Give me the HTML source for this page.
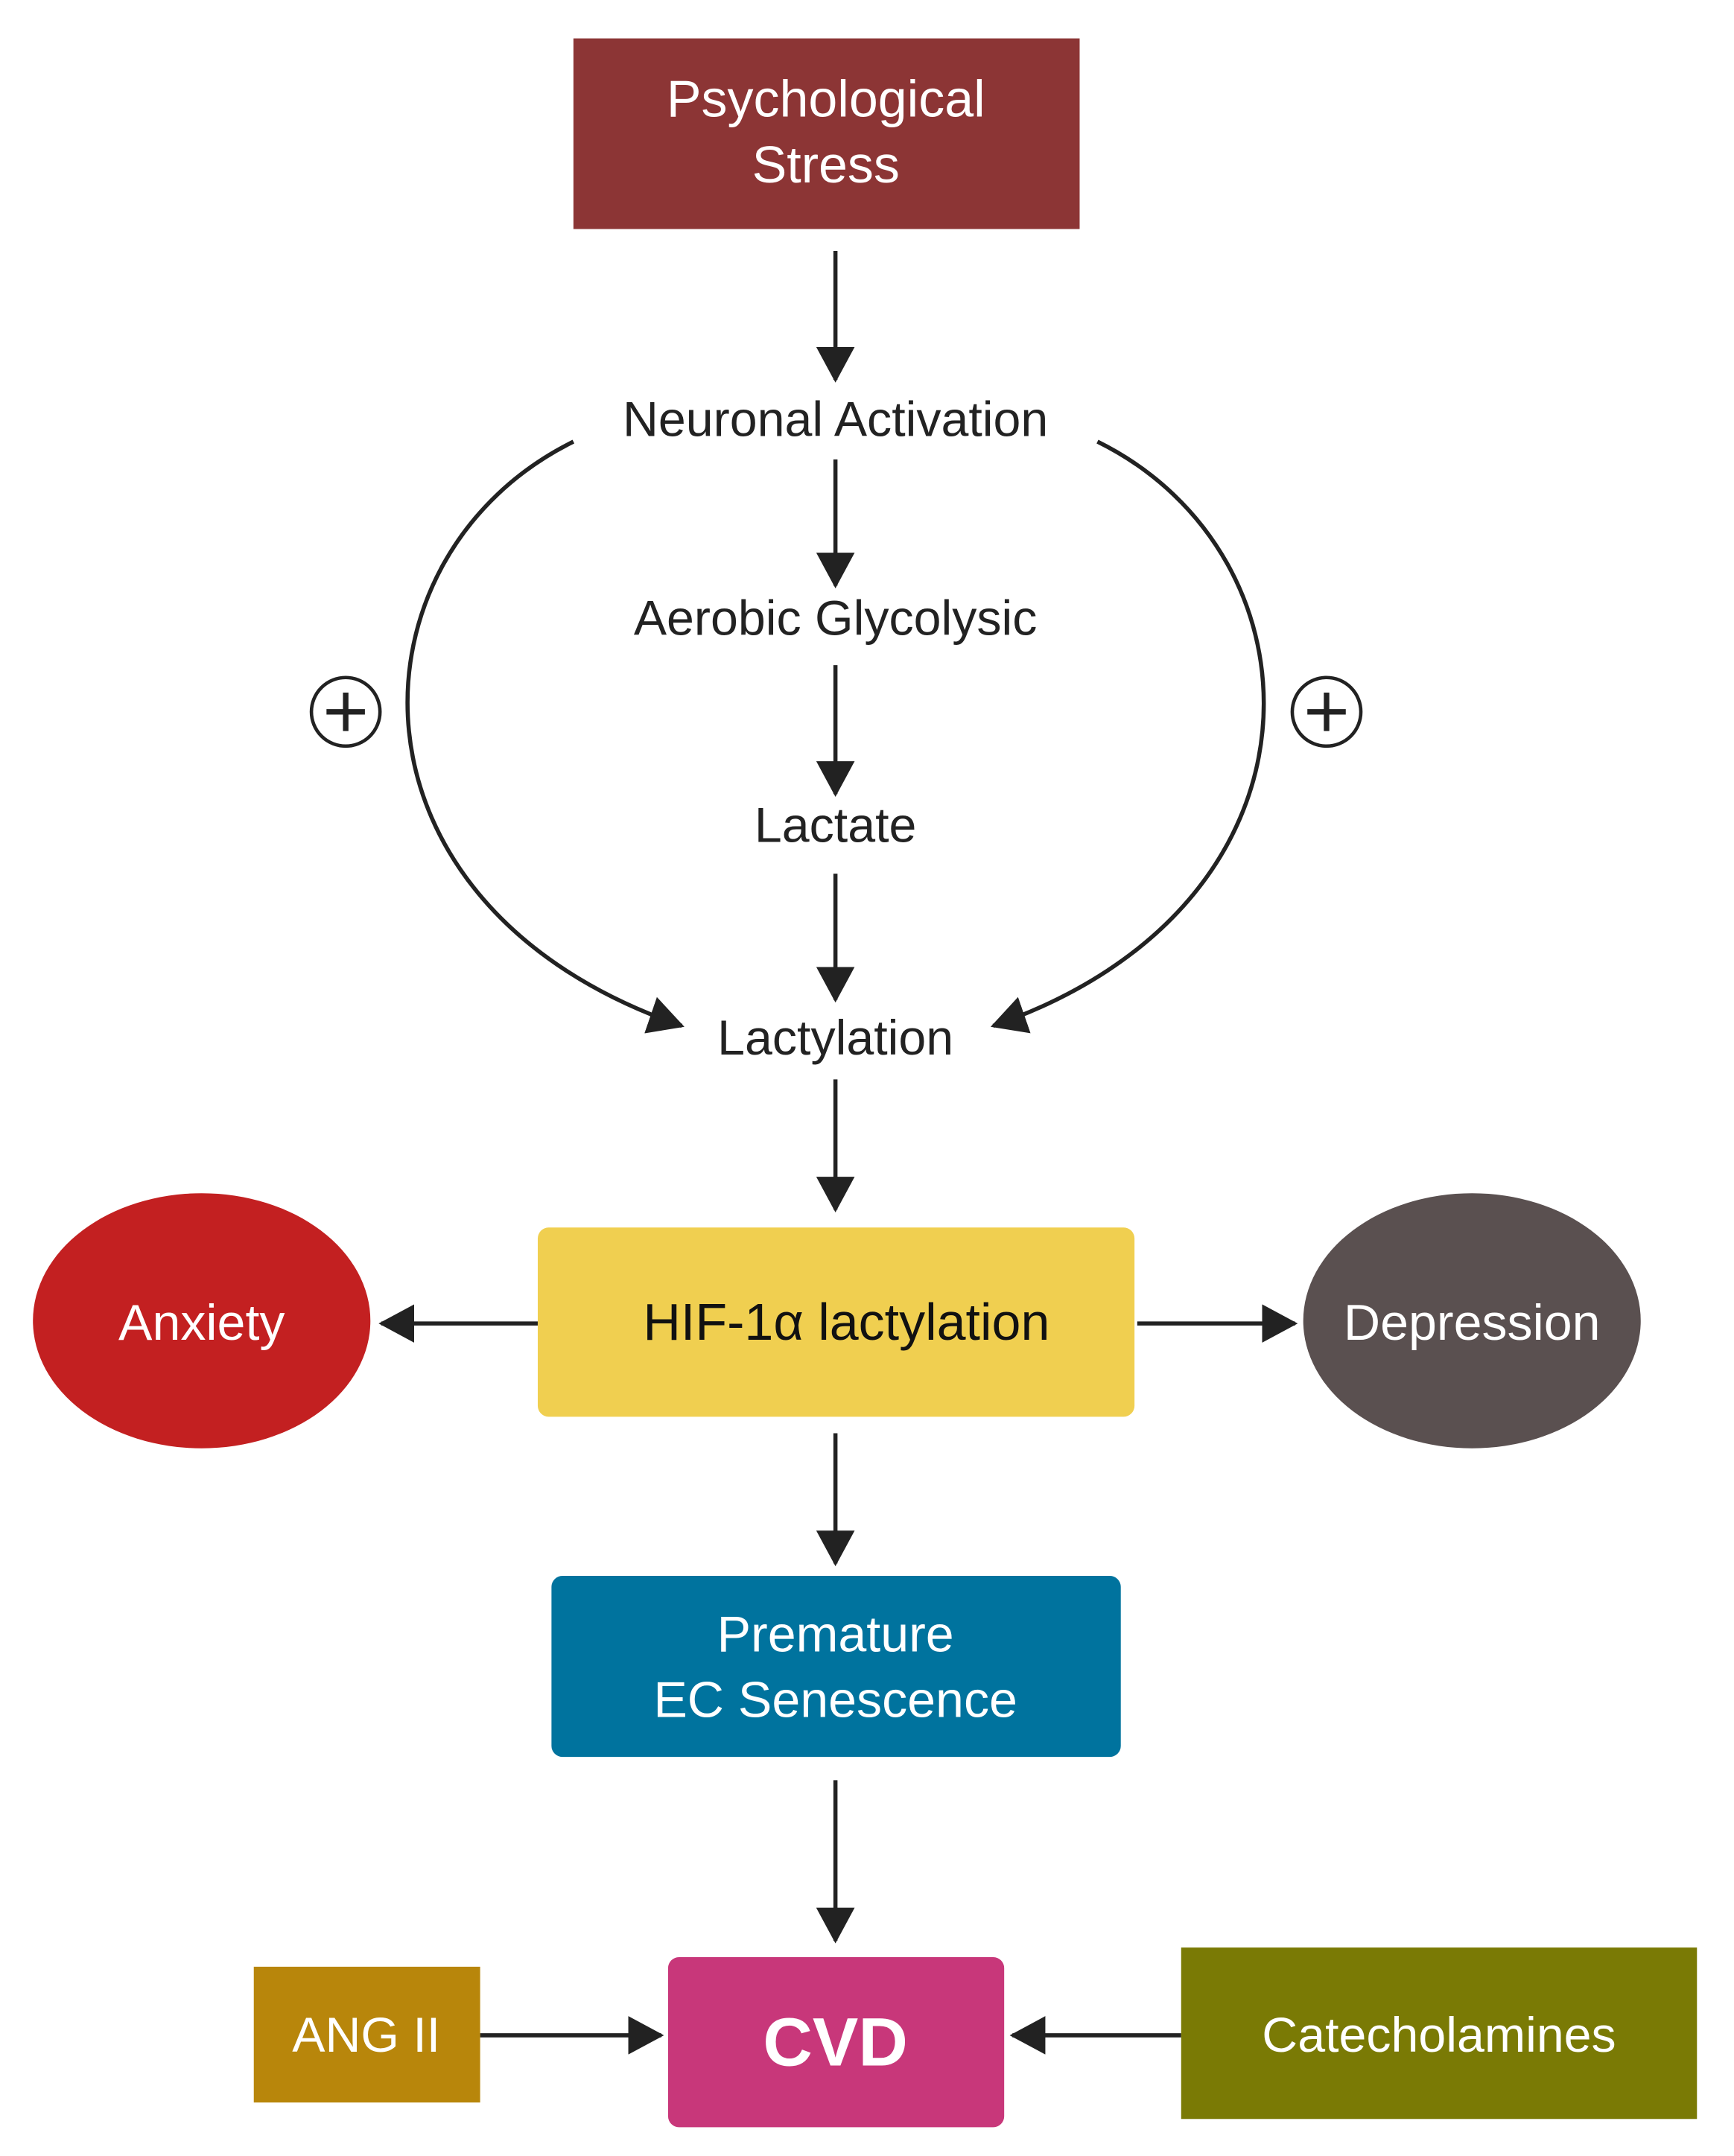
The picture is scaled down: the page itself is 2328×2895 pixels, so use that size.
<!DOCTYPE html>
<html><head><meta charset="utf-8"><style>html,body{margin:0;padding:0;background:#fff}svg{display:block}</style></head>
<body>
<svg width="2328" height="2895" viewBox="0 0 1264 1572" preserveAspectRatio="none" xmlns="http://www.w3.org/2000/svg" font-family="'Liberation Sans', 'DejaVu Sans', sans-serif">
<defs>
<marker id="a" markerWidth="26" markerHeight="28" refX="24" refY="14" orient="auto" markerUnits="userSpaceOnUse">
<path d="M0,0 L26,14 L0,28 Z" fill="#222"/>
</marker>
</defs>
<rect width="1264" height="1572" fill="#fff"/>
<g stroke="#222" stroke-width="3" fill="none" marker-end="url(#a)">
<line x1="609" y1="183" x2="609" y2="277"/>
<line x1="609" y1="335" x2="609" y2="427"/>
<line x1="609" y1="485" x2="609" y2="579"/>
<line x1="609" y1="637" x2="609" y2="729"/>
<line x1="609" y1="787" x2="609" y2="882"/>
<line x1="392" y1="965" x2="278" y2="965"/>
<line x1="829" y1="965" x2="944" y2="965"/>
<line x1="609" y1="1045" x2="609" y2="1140"/>
<line x1="609" y1="1298" x2="609" y2="1415"/>
<line x1="350" y1="1484" x2="482" y2="1484"/>
<line x1="861" y1="1484" x2="738" y2="1484"/>
<path d="M418,322 C250,405 240,660 497,748"/>
<path d="M800,322 C968,405 978,660 724,748"/>
</g>
<rect x="418" y="28" width="369" height="139" fill="#8C3535"/>
<text x="602" y="85" font-size="38" fill="#fff" text-anchor="middle">Psychological</text>
<text x="602" y="133" font-size="38" fill="#fff" text-anchor="middle">Stress</text>
<g font-size="36" fill="#222" text-anchor="middle">
<text x="609" y="318">Neuronal Activation</text>
<text x="609" y="463">Aerobic Glycolysic</text>
<text x="609" y="614">Lactate</text>
<text x="609" y="769">Lactylation</text>
</g>
<g stroke="#222" stroke-width="2.5" fill="none">
<circle cx="252" cy="519" r="25"/>
<circle cx="967" cy="519" r="25"/>
</g>
<g stroke="#222" stroke-width="4">
<line x1="238" y1="519" x2="266" y2="519"/><line x1="252" y1="505" x2="252" y2="533"/>
<line x1="953" y1="519" x2="981" y2="519"/><line x1="967" y1="505" x2="967" y2="533"/>
</g>
<rect x="392" y="895" width="435" height="138" rx="8" fill="#F0CF50"/>
<text x="617" y="977" font-size="38" fill="#111" text-anchor="middle">HIF-1α lactylation</text>
<ellipse cx="147" cy="963" rx="123" ry="93" fill="#C32021"/>
<text x="147" y="977" font-size="37" fill="#fff" text-anchor="middle">Anxiety</text>
<ellipse cx="1073" cy="963" rx="123" ry="93" fill="#5A5050"/>
<text x="1073" y="977" font-size="37" fill="#fff" text-anchor="middle">Depression</text>
<rect x="402" y="1149" width="415" height="132" rx="8" fill="#00739E"/>
<text x="609" y="1204" font-size="37" fill="#fff" text-anchor="middle">Premature</text>
<text x="609" y="1252" font-size="37" fill="#fff" text-anchor="middle">EC Senescence</text>
<rect x="487" y="1427" width="245" height="124" rx="8" fill="#C8377A"/>
<text x="609" y="1506" font-size="50" font-weight="bold" fill="#fff" text-anchor="middle">CVD</text>
<rect x="185" y="1434" width="165" height="99" fill="#B8860B"/>
<text x="267" y="1496" font-size="36" fill="#fff" text-anchor="middle">ANG II</text>
<rect x="861" y="1420" width="376" height="125" fill="#7A7A05"/>
<text x="1049" y="1496" font-size="36" fill="#fff" text-anchor="middle">Catecholamines</text>
</svg>
</body></html>
